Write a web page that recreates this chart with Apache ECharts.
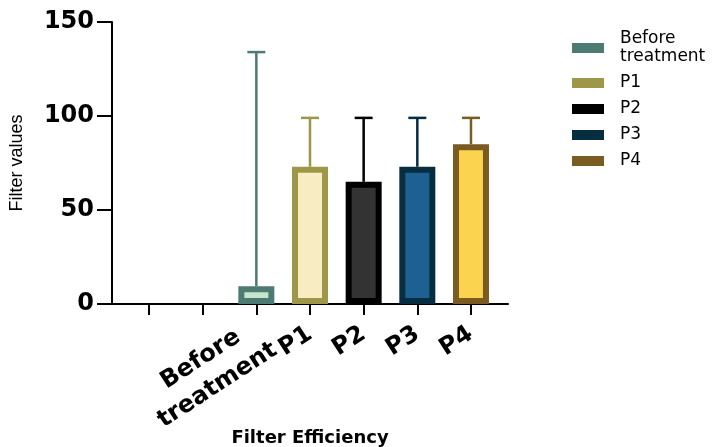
<!DOCTYPE html>
<html>
<head>
<meta charset="utf-8">
<script src="https://cdn.jsdelivr.net/npm/echarts@6/dist/echarts.min.js"></script>
<style>html,body{margin:0;padding:0;background:#fff;}#c{width:714px;height:447px;}</style>
</head>
<body>
<div id="c"></div>
<script>
// ---- data ----
const categories = ['', '', 'Before treatment', 'P1', 'P2', 'P3', 'P4'];
const tickPositions = [0, 1, 2, 3, 4, 5, 6];
const seriesNames = ['Before treatment', 'P1', 'P2', 'P3', 'P4'];
const barPositions = [2, 3, 4, 5, 6];
const means = [9.5, 73, 65, 73, 85];
const errorTops = [134, 99, 99, 99, 99];
const yTicks = [0, 50, 100, 150];

// ---- styles ----
const fillColors = ['#c9e4cc', '#f8ecc2', '#333333', '#1c6192', '#fcd34e'];
const edgeColors = ['#4b7b73', '#9e9648', '#000000', '#072d40', '#7a5b22'];
const wrappedLabelShift = 0.19;

const chart = echarts.init(document.getElementById('c'), null, {renderer: 'canvas'});

const barSeries = seriesNames.map((name, i) => ({
  name: name,
  type: 'bar',
  barWidth: 36,
  barGap: '-100%',
  z: 3,
  itemStyle: {color: fillColors[i], borderColor: edgeColors[i], borderWidth: 6},
  data: [[barPositions[i], means[i]]]
}));

const errorSeries = {
  type: 'custom',
  z: 2,
  silent: true,
  data: barPositions.map((p, i) => [p, means[i], errorTops[i]]),
  renderItem: function (params, api) {
    const i = params.dataIndex;
    const base = api.coord([api.value(0), api.value(1)]);
    const top = api.coord([api.value(0), api.value(2)]);
    const col = edgeColors[i];
    const capHalf = 9;
    return {
      type: 'group',
      children: [
        {type: 'line', shape: {x1: base[0], y1: base[1], x2: top[0], y2: top[1]}, style: {stroke: col, lineWidth: 2.5}},
        {type: 'line', shape: {x1: top[0] - capHalf, y1: top[1], x2: top[0] + capHalf, y2: top[1]}, style: {stroke: col, lineWidth: 2.5}}
      ]
    };
  }
};

const singleLine = barPositions.filter(p => categories[p].indexOf(' ') < 0);
const wrapped = barPositions.filter(p => categories[p].indexOf(' ') > 0);

const labelFont = {fontFamily: 'DejaVu Sans', fontWeight: 'bold', fontSize: 24, color: '#000'};

chart.setOption({
  animation: false,
  backgroundColor: '#fff',
  grid: {left: 112, top: 22, width: 396, height: 282, containLabel: false, outerBoundsMode: 'none'},
  legend: {
    orient: 'vertical',
    left: 572,
    top: 30,
    padding: 0,
    itemWidth: 32,
    itemHeight: 10,
    itemGap: 8,
    icon: 'rect',
    textStyle: {fontFamily: 'DejaVu Sans', fontSize: 17, color: '#000', lineHeight: 18, padding: [0, 0, 0, 11]},
    formatter: function (n) { return n === 'Before treatment' ? 'Before\ntreatment' : n; },
    data: seriesNames.map((n, i) => ({name: n, itemStyle: {color: edgeColors[i], borderWidth: 0}}))
  },
  xAxis: [{
    type: 'value',
    min: -0.69,
    max: 6.69,
    name: 'Filter Efficiency',
    nameLocation: 'middle',
    nameGap: 125,
    nameMoveOverlap: false,
    nameTextStyle: {fontFamily: 'DejaVu Sans', fontWeight: 'bold', fontSize: 18, color: '#000'},
    splitLine: {show: false},
    axisLine: {show: true, onZero: false, lineStyle: {color: '#000', width: 2}},
    axisTick: {show: true, customValues: tickPositions, length: 11, lineStyle: {color: '#000', width: 2}},
    axisLabel: Object.assign({
      customValues: singleLine,
      hideOverlap: false,
      rotate: 33,
      margin: 28,
      formatter: function (v) { return categories[Math.round(parseFloat(v))] || ''; }
    }, labelFont)
  }, {
    type: 'value',
    position: 'bottom',
    min: -0.69,
    max: 6.69,
    splitLine: {show: false},
    axisLine: {show: false, onZero: false},
    axisTick: {show: false},
    axisLabel: Object.assign({
      customValues: wrapped.map(p => p + wrappedLabelShift),
      hideOverlap: false,
      rotate: 33,
      margin: 31,
      formatter: function (v) {
        const name = categories[Math.round(parseFloat(v) - wrappedLabelShift)] || '';
        return name.split(' ').map(p => '{c|' + p + '}').join('\n');
      },
      rich: {c: Object.assign({width: 137, align: 'center', lineHeight: 31}, labelFont)}
    }, labelFont)
  }],
  yAxis: {
    type: 'value',
    min: yTicks[0],
    max: yTicks[yTicks.length - 1],
    interval: yTicks[1] - yTicks[0],
    name: 'Filter values',
    nameLocation: 'middle',
    nameGap: 86,
    nameTextStyle: {fontFamily: 'Liberation Sans', fontSize: 18, color: '#000'},
    splitLine: {show: false},
    axisLine: {show: true, onZero: false, lineStyle: {color: '#000', width: 2}},
    axisTick: {show: true, length: 15, lineStyle: {color: '#000', width: 2}},
    axisLabel: {margin: 18, fontFamily: 'DejaVu Sans', fontWeight: 'bold', fontSize: 24, color: '#000'}
  },
  series: barSeries.concat([errorSeries])
});
</script>
</body>
</html>
